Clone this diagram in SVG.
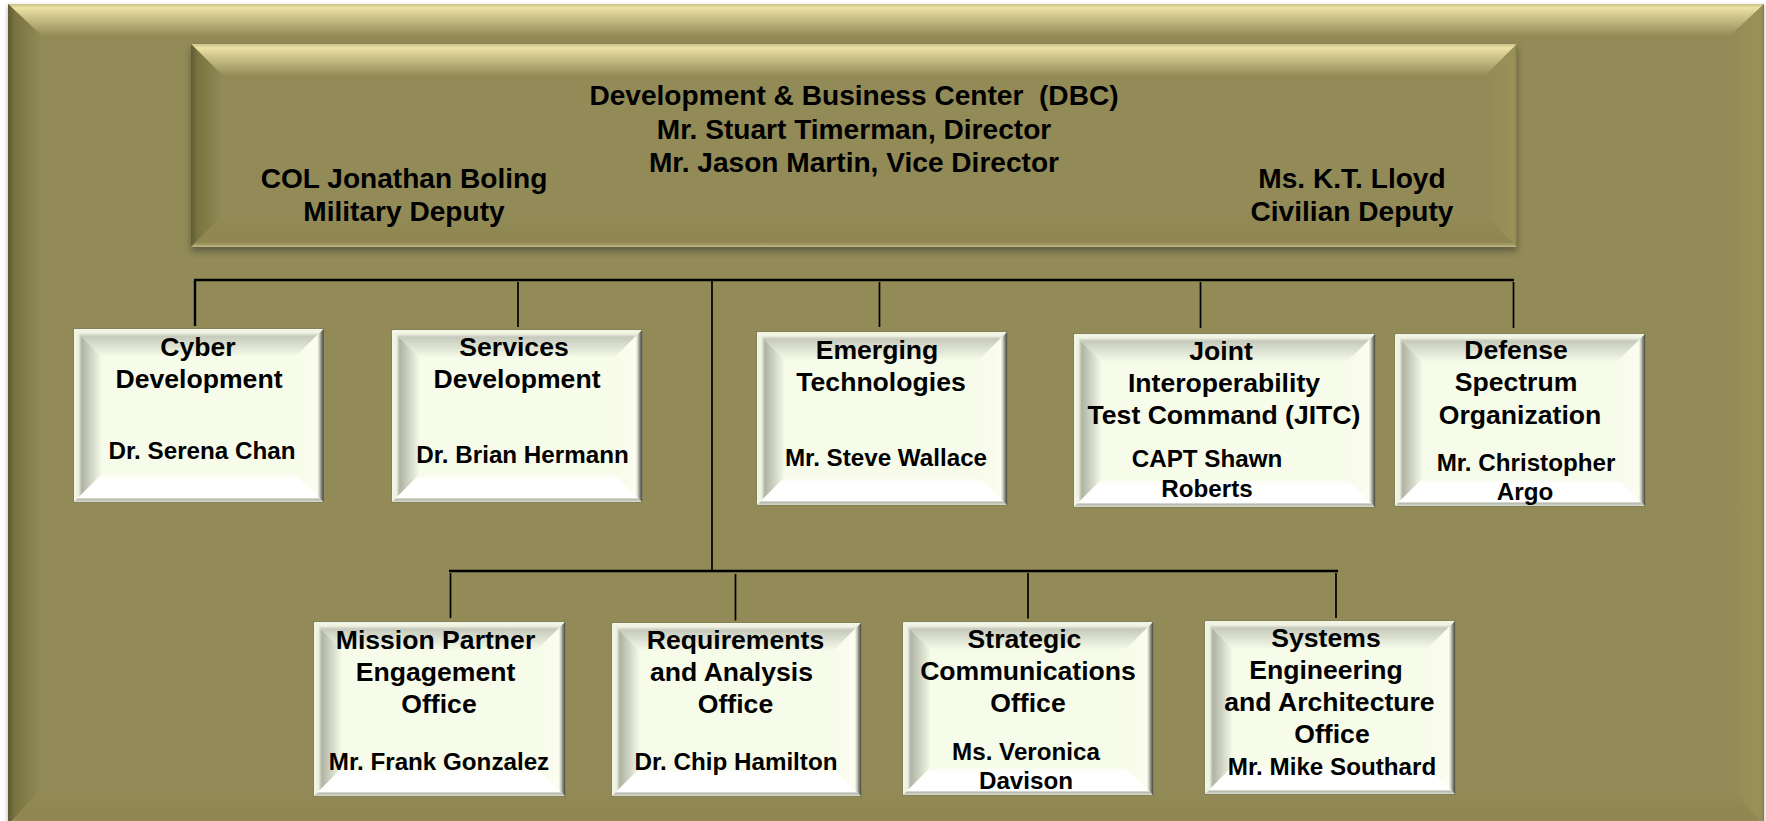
<svg xmlns="http://www.w3.org/2000/svg" width="1766" height="821" viewBox="0 0 1766 821">
<style>
text{font-family:"Liberation Sans",Arial,sans-serif;font-weight:bold;fill:#000;text-anchor:middle}
.t{font-size:26.6px}.n{font-size:24.2px}.h{font-size:28.1px}
.bar{fill:none;stroke:#000;stroke-width:2.4}
.drop{fill:none;stroke:#000;stroke-width:1.7}
.obase{fill:#928b57}.cbase{fill:#f7fbe9;stroke:#77775f;stroke-width:1}
</style>
<defs>
<linearGradient id="oT" x1="0" y1="0" x2="0" y2="1"><stop offset="0" stop-color="#c9c18a"/><stop offset=".12" stop-color="#ebe2a3"/><stop offset=".35" stop-color="#d3c98f"/><stop offset="1" stop-color="#928b57"/></linearGradient>
<linearGradient id="oL" x1="0" y1="0" x2="1" y2="0"><stop offset="0" stop-color="#5f5b36"/><stop offset=".2" stop-color="#78733f"/><stop offset="1" stop-color="#928b57"/></linearGradient>
<linearGradient id="oB" x1="0" y1="0" x2="0" y2="1"><stop offset="0" stop-color="#928b57"/><stop offset=".85" stop-color="#8f8650"/><stop offset=".92" stop-color="#a39b66"/><stop offset="1" stop-color="#c2ba86"/></linearGradient>
<linearGradient id="oR" x1="0" y1="0" x2="1" y2="0"><stop offset="0" stop-color="#928b57"/><stop offset=".85" stop-color="#9a9158"/><stop offset=".95" stop-color="#958c55"/><stop offset="1" stop-color="#7a7548"/></linearGradient>
<linearGradient id="cT" x1="0" y1="0" x2="0" y2="1"><stop offset="0" stop-color="#f3f5e5"/><stop offset=".14" stop-color="#f0f2e2"/><stop offset=".25" stop-color="#c6cabc"/><stop offset="1" stop-color="#f7fbe9"/></linearGradient>
<linearGradient id="cL" x1="0" y1="0" x2="1" y2="0"><stop offset="0" stop-color="#f3f5e5"/><stop offset=".16" stop-color="#eef0e0"/><stop offset=".28" stop-color="#afb3a4"/><stop offset="1" stop-color="#f7fbe9"/></linearGradient>
<linearGradient id="cB" x1="0" y1="0" x2="0" y2="1"><stop offset="0" stop-color="#f7fbe9"/><stop offset=".2" stop-color="#fff"/><stop offset=".84" stop-color="#fff"/><stop offset=".9" stop-color="#b5b8aa"/><stop offset="1" stop-color="#d9dbcd"/></linearGradient>
<linearGradient id="cR" x1="0" y1="0" x2="1" y2="0"><stop offset="0" stop-color="#f7fbe9"/><stop offset=".78" stop-color="#fbfef0"/><stop offset=".86" stop-color="#c5c8ba"/><stop offset=".92" stop-color="#8a8c80"/><stop offset="1" stop-color="#4b4b40"/></linearGradient>
<filter id="sh" x="-3%" y="-5%" width="106%" height="115%"><feGaussianBlur stdDeviation="3.5"/></filter>
<filter id="sh2" x="-2%" y="-2%" width="104%" height="104%"><feGaussianBlur stdDeviation="2.5"/></filter>
</defs>
<rect width="1766" height="821" fill="#fff"/>
<g id="background">
<rect x="8" y="6" width="1756" height="819" fill="#555" opacity=".45" filter="url(#sh2)"/>
<rect class="obase" x="8" y="4" width="1756" height="821"/>
<polygon fill="url(#oT)" points="8,4 1764,4 1730,36 42,36"/>
<polygon fill="url(#oL)" points="8,4 42,36 42,788 8,825"/>
<polygon fill="url(#oB)" points="42,788 1730,788 1764,825 8,825"/>
<polygon fill="url(#oR)" points="1730,36 1764,4 1764,825 1730,788"/>
</g>
<g id="dbc">
<rect x="191" y="48" width="1326" height="203" fill="#333" opacity=".55" filter="url(#sh)"/>
<rect class="obase" x="191" y="44" width="1326" height="203"/>
<polygon fill="url(#oT)" points="191,44 1517,44 1485,76 223,76"/>
<polygon fill="url(#oL)" points="191,44 223,76 223,215 191,247"/>
<polygon fill="url(#oB)" points="223,215 1485,215 1517,247 191,247"/>
<polygon fill="url(#oR)" points="1485,76 1517,44 1517,247 1485,215"/>
<text class="h" x="854" y="105">Development &amp; Business Center &#160;(DBC)</text>
<text class="h" x="854" y="138.500">Mr. Stuart Timerman, Director</text>
<text class="h" x="854" y="171.500">Mr. Jason Martin, Vice Director</text>
<text class="h" x="404" y="188">COL Jonathan Boling</text>
<text class="h" x="404" y="221">Military Deputy</text>
<text class="h" x="1352" y="188">Ms. K.T. Lloyd</text>
<text class="h" x="1352" y="221">Civilian Deputy</text>
</g>
<g id="connectors">
<path class="bar" d="M194 280H1514"/>
<path class="bar" d="M195 280V326"/>
<path class="drop" d="M518 282V327M712 280V570M879.500 282V327M1200.500 282V328M1513.500 282V328"/>
<path class="bar" d="M449 571H1338"/>
<path class="drop" d="M450.500 573V618M735.500 574V620.500M1028 573V618.500M1336 573V618"/>
</g>
<g id="cyber">
<rect class="cbase" x="74" y="329" width="249.500" height="173"/>
<polygon fill="url(#cT)" points="74,329 323.500,329 295,357 102,357"/><polygon fill="url(#cL)" points="74,329 102,357 102,474 74,502"/><polygon fill="url(#cB)" points="102,474 295,474 323.500,502 74,502"/><polygon fill="url(#cR)" points="295,357 323.500,329 323.500,502 295,474"/>
<text class="t" x="198" y="356">Cyber</text><text class="t" x="199" y="388">Development</text><text class="n" x="202" y="459">Dr. Serena Chan</text>
</g>
<g id="services">
<rect class="cbase" x="392" y="330" width="250" height="172"/>
<polygon fill="url(#cT)" points="392,330 642,330 614,358 420,358"/><polygon fill="url(#cL)" points="392,330 420,358 420,474 392,502"/><polygon fill="url(#cB)" points="420,474 614,474 642,502 392,502"/><polygon fill="url(#cR)" points="614,358 642,330 642,502 614,474"/>
<text class="t" x="514" y="356">Services</text><text class="t" x="517" y="388">Development</text><text class="n" x="522.500" y="463">Dr. Brian Hermann</text>
</g>
<g id="emerging">
<rect class="cbase" x="757" y="332" width="250" height="173"/>
<polygon fill="url(#cT)" points="757,332 1007,332 979,360 785,360"/><polygon fill="url(#cL)" points="757,332 785,360 785,477 757,505"/><polygon fill="url(#cB)" points="785,477 979,477 1007,505 757,505"/><polygon fill="url(#cR)" points="979,360 1007,332 1007,505 979,477"/>
<text class="t" x="877" y="359">Emerging</text><text class="t" x="881" y="391">Technologies</text><text class="n" x="886" y="466">Mr. Steve Wallace</text>
</g>
<g id="jitc">
<rect class="cbase" x="1074" y="334" width="301" height="173"/>
<polygon fill="url(#cT)" points="1074,334 1375,334 1347,362 1102,362"/><polygon fill="url(#cL)" points="1074,334 1102,362 1102,479 1074,507"/><polygon fill="url(#cB)" points="1102,479 1347,479 1375,507 1074,507"/><polygon fill="url(#cR)" points="1347,362 1375,334 1375,507 1347,479"/>
<text class="t" x="1221" y="360">Joint</text><text class="t" x="1224" y="392">Interoperability</text><text class="t" x="1224" y="424">Test Command (JITC)</text><text class="n" x="1207" y="467">CAPT Shawn</text><text class="n" x="1207" y="497">Roberts</text>
</g>
<g id="dso">
<rect class="cbase" x="1395" y="334" width="250" height="172"/>
<polygon fill="url(#cT)" points="1395,334 1645,334 1617,362 1423,362"/><polygon fill="url(#cL)" points="1395,334 1423,362 1423,478 1395,506"/><polygon fill="url(#cB)" points="1423,478 1617,478 1645,506 1395,506"/><polygon fill="url(#cR)" points="1617,362 1645,334 1645,506 1617,478"/>
<text class="t" x="1516" y="359">Defense</text><text class="t" x="1516" y="391">Spectrum</text><text class="t" x="1520" y="424">Organization</text><text class="n" x="1526" y="471">Mr. Christopher</text><text class="n" x="1525" y="500">Argo</text>
</g>
<g id="mission">
<rect class="cbase" x="314" y="622" width="251" height="174"/>
<polygon fill="url(#cT)" points="314,622 565,622 537,650 342,650"/><polygon fill="url(#cL)" points="314,622 342,650 342,768 314,796"/><polygon fill="url(#cB)" points="342,768 537,768 565,796 314,796"/><polygon fill="url(#cR)" points="537,650 565,622 565,796 537,768"/>
<text class="t" x="435.500" y="649">Mission Partner</text><text class="t" x="435.500" y="681">Engagement</text><text class="t" x="439" y="713">Office</text><text class="n" x="439" y="770">Mr. Frank Gonzalez</text>
</g>
<g id="requirements">
<rect class="cbase" x="612" y="623" width="249" height="173"/>
<polygon fill="url(#cT)" points="612,623 861,623 833,651 640,651"/><polygon fill="url(#cL)" points="612,623 640,651 640,768 612,796"/><polygon fill="url(#cB)" points="640,768 833,768 861,796 612,796"/><polygon fill="url(#cR)" points="833,651 861,623 861,796 833,768"/>
<text class="t" x="735.500" y="649">Requirements</text><text class="t" x="731.500" y="681">and Analysis</text><text class="t" x="735.500" y="713">Office</text><text class="n" x="736" y="770">Dr. Chip Hamilton</text>
</g>
<g id="strategic">
<rect class="cbase" x="903" y="622" width="250" height="173"/>
<polygon fill="url(#cT)" points="903,622 1153,622 1125,650 931,650"/><polygon fill="url(#cL)" points="903,622 931,650 931,767 903,795"/><polygon fill="url(#cB)" points="931,767 1125,767 1153,795 903,795"/><polygon fill="url(#cR)" points="1125,650 1153,622 1153,795 1125,767"/>
<text class="t" x="1024.500" y="648">Strategic</text><text class="t" x="1028" y="680">Communications</text><text class="t" x="1028" y="712">Office</text><text class="n" x="1026" y="760">Ms. Veronica</text><text class="n" x="1026" y="789">Davison</text>
</g>
<g id="systems">
<rect class="cbase" x="1205" y="621" width="250" height="173"/>
<polygon fill="url(#cT)" points="1205,621 1455,621 1427,649 1233,649"/><polygon fill="url(#cL)" points="1205,621 1233,649 1233,766 1205,794"/><polygon fill="url(#cB)" points="1233,766 1427,766 1455,794 1205,794"/><polygon fill="url(#cR)" points="1427,649 1455,621 1455,794 1427,766"/>
<text class="t" x="1326" y="647">Systems</text><text class="t" x="1326" y="679">Engineering</text><text class="t" x="1329.500" y="711">and Architecture</text><text class="t" x="1332" y="743">Office</text><text class="n" x="1332" y="775">Mr. Mike Southard</text>
</g>
</svg>
